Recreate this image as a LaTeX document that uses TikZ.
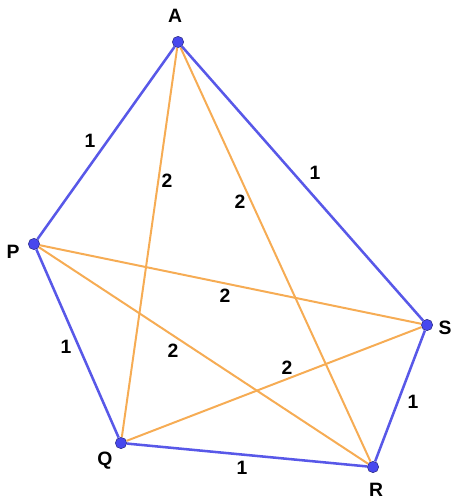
\documentclass[tikz,border=0pt]{standalone}
\usepackage{fontspec}
\setmainfont{Liberation Sans}
\usetikzlibrary{calc}

\definecolor{edgeblue}{RGB}{88,88,232}
\definecolor{edgeorange}{RGB}{246,172,84}
\definecolor{dotblue}{RGB}{72,72,238}

\tikzset{
	vertex/.style={circle, fill=dotblue, draw=dotblue!55!black, line width=0.4pt, inner sep=0pt, minimum size=8.5pt},
	short/.style={edgeblue, line width=1.9pt},
	long/.style={edgeorange, line width=1.5pt},
	lbl/.style={font=\bfseries\fontsize{14.5}{16}\selectfont, inner sep=0pt},
}

\begin{document}
\begin{tikzpicture}[x=0.75pt, y=-0.75pt]
	\useasboundingbox (0,0) rectangle (456,502);

	% points
	\node (A) [vertex] at (178,42) {};
	\node (P) [vertex] at (34,244) {};
	\node (S) [vertex] at (427,325) {};
	\node (Q) [vertex] at (121,443) {};
	\node (R) [vertex] at (373,467) {};

	\node (Aname) [lbl] at (175,16) {A};
	\node (Pname) [lbl] at (13,252) {P};
	\node (Sname) [lbl] at (445,328) {S};
	\node (Qname) [lbl] at (105,461) {Q};
	\node (Rname) [lbl] at (376,490) {R};

	% diagonals
	\draw [long] (A) -- (Q);
	\draw [long] (A) -- (R);
	\draw [long] (P) -- (S);
	\draw [long] (P) -- (R);
	\draw [long] (Q) -- (S);

	% sides
	\draw [short] (A) -- (P);
	\draw [short] (A) -- (S);
	\draw [short] (P) -- (Q);
	\draw [short] (S) -- (R);
	\draw [short] (Q) -- (R);

	% weights
	\node (wAP) [lbl] at (90,141) {1};
	\node (wAS) [lbl] at (315,173) {1};
	\node (wPQ) [lbl] at (66,347) {1};
	\node (wSR) [lbl] at (413,402) {1};
	\node (wQR) [lbl] at (242,468) {1};

	\node (wAQ) [lbl] at (167,181) {2};
	\node (wAR) [lbl] at (240,202) {2};
	\node (wPS) [lbl] at (225,296) {2};
	\node (wPR) [lbl] at (173,351) {2};
	\node (wQS) [lbl] at (287,368) {2};
\end{tikzpicture}
\end{document}
